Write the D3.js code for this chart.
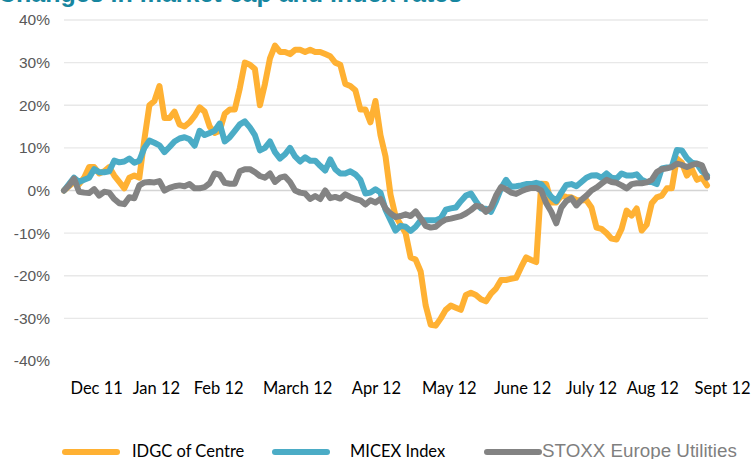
<!DOCTYPE html>
<html>
<head>
<meta charset="utf-8">
<script src="https://cdn.jsdelivr.net/npm/d3@7"></script>
<style>
  body { margin: 0; background: #fff; }
  svg { display: block; }
</style>
</head>
<body>
<svg id="chart" width="753" height="459"></svg>
<script>

// one value roughly every trading day and a half, Dec 2011 - Sept 2012 (% change)
var idgc = [0, 1, 2, 1.5, 3, 5.5, 5.5, 4, 4.5, 5.5, 3.5, 2, 0.5, 3, 3.5, 3,
  12, 20, 21, 24.5, 17, 17, 18.5, 15.5, 15, 16, 17.5, 19.5, 18.5, 15, 13.5, 14,
  18, 19, 19, 24, 30, 29.5, 28.5, 20, 25, 31, 34, 32.5, 32.5, 32, 33, 33,
  32.5, 33, 32.5, 32.5, 32, 31.5, 30, 29.5, 25, 24.5, 23.5, 19, 19, 16, 21, 13,
  8, -1, -6, -8, -10, -15.7, -16.2, -19, -27, -31.5, -31.7, -30, -28, -27, -27.5, -28,
  -24.5, -24, -24.5, -25.5, -26, -24.2, -23, -21, -21, -20.7, -20.5, -18, -15.7, -16.3, -16.8, 1.6,
  1.5, -2.8, -2.8, -1.2, -1.5, -1.6, -2.2, -2.3, -2.3, -4, -8.7, -9, -10, -11.3, -11.5, -9,
  -4.7, -5.9, -4.2, -9.4, -8, -3, -1.6, -1.2, 0.5, 0.5, 7.5, 6.5, 3.5, 5, 2.5, 3, 1.2];

var micex = [0, 1.5, 3, 2, 2.5, 3, 5, 4.3, 4.3, 4.5, 7, 6.6, 6.8, 7.5, 6.5, 7,
  10, 11.7, 11.2, 10.6, 9, 10.2, 11.5, 12.2, 12.5, 12, 10.5, 14, 13, 13.5, 14, 15.7,
  11.5, 12.5, 14, 15.5, 16.2, 14.8, 13, 9.4, 10, 11.5, 9, 7.5, 8.5, 10, 8, 6.8,
  7.8, 7, 7, 5.8, 4.7, 7.3, 5, 4, 4, 4.5, 3.8, 2.5, -0.7, -0.5, 0.3, -0.5,
  -4.5, -7, -9.4, -8.3, -8.5, -9.5, -8.5, -7, -7, -7, -7, -6.5, -4.5, -4.2, -4, -2.5,
  -1.2, -0.7, -2.5, -4.2, -4.3, -5, -2.5, 0.5, 2.5, 0.9, 1, 1.2, 1.5, 1.5, 1.8, 1.5,
  0, -1.5, -2.5, -0.5, 1.3, 1.5, 1, 2, 3, 3.5, 3.6, 3, 4, 3, 2.8, 4,
  3.5, 3.5, 3.8, 2.5, 2, 2, 1.5, 5.2, 5.4, 5.6, 9.5, 9.4, 7.6, 6.5, 6.3, 4.5, 3.5];

var stoxx = [0, 1.2, 2.8, -0.3, -0.5, -0.6, 0.3, -1.2, -0.3, -0.5, -2, -3, -3.2, -1.6, -1.8, 1.2,
  1.9, 2, 1.9, 2.2, 0, 0.6, 1, 1.2, 1, 1.5, 0.5, 0.5, 0.8, 1.7, 4, 3.7,
  1.8, 1.6, 1.6, 4.5, 5, 5, 4.3, 3.4, 3, 4, 2, 3, 3.3, 2, 0, -0.5,
  -0.7, -2, -1.3, -2, 0, -1.8, -1.5, -1.9, -0.9, -1.5, -2, -2.3, -3.3, -2.3, -2.8, -2,
  -4.2, -5.4, -6.2, -6, -5.6, -6, -4.9, -6.5, -8.3, -8.7, -8.5, -7.5, -6.8, -6.6, -6.3, -6,
  -5.4, -4.6, -3.6, -3.8, -5, -4, -1.2, 0.8, 0.3, -0.5, -0.8, -0.2, 0.3, 0.6, 0.6, 0,
  -3, -5, -7.7, -4, -2.5, -1.8, -3.5, -2.2, -1.2, 0, 0.7, 1.6, 2.5, 2, 1.8, 1.2,
  0.5, 1.5, 1.7, 1.7, 1.9, 2.5, 4.3, 5, 5.2, 5.5, 6.3, 6, 5.5, 6, 6.3, 5.9, 3];

var yTicks = [40, 30, 20, 10, 0, -10, -20, -30, -40];
var monthLabels = ["Dec 11", "Jan 12", "Feb 12", "March 12", "Apr 12", "May 12", "June 12", "July 12", "Aug 12", "Sept 12"];
var monthPos = [6.4, 18.3, 30.7, 46.4, 62.1, 76.6, 91.2, 104.9, 117.1, 131];
var seriesNames = ["IDGC of Centre", "MICEX Index", "STOXX Europe Utilities"];

var colors = ["#ffb133", "#4bacc6", "#838383"];

var svg = d3.select("#chart");

var x = d3.scaleLinear().domain([0, idgc.length - 1]).range([64, 707]);
var y = d3.scaleLinear().domain([-40, 40]).range([361, 20]);

// title, mostly cut off by the top edge
svg.append("text")
    .attr("x", -2)
    .attr("y", 2)
    .style("font-family", "Liberation Sans, Arial, sans-serif")
    .style("font-weight", "bold")
    .style("font-size", "25px")
    .style("fill", "#17869f")
    .text("Changes in market cap and index rates");

// gridlines
svg.selectAll(".grid")
    .data(yTicks.filter(function (d) { return d > -40; }))
    .enter().append("line")
    .attr("class", "grid")
    .attr("x1", 64)
    .attr("x2", 708)
    .attr("y1", function (d) { return y(d); })
    .attr("y2", function (d) { return y(d); })
    .style("stroke", function (d) { return d === 0 ? "#d4d4d4" : "#e8e8e8"; })
    .style("stroke-width", 1.3);

// y labels
svg.selectAll(".ylab")
    .data(yTicks)
    .enter().append("text")
    .attr("class", "ylab")
    .attr("x", 50)
    .attr("y", function (d) { return y(d); })
    .attr("dy", ".35em")
    .style("text-anchor", "end")
    .style("font-family", "Liberation Sans, Arial, sans-serif")
    .style("font-size", "15.5px")
    .style("fill", "#595959")
    .text(function (d) { return d + "%"; });

// month labels
var xAxis = d3.axisBottom(x)
    .tickValues(monthPos)
    .tickSize(0)
    .tickPadding(0)
    .tickFormat(function (d, i) { return monthLabels[i]; });

var gx = svg.append("g")
    .attr("transform", "translate(0,382)")
    .call(xAxis);
gx.select(".domain").remove();
gx.selectAll("text")
    .style("font-family", "Lato, sans-serif")
    .style("font-size", "16.5px")
    .style("fill", "#000");

// lines, first series at the bottom
var line = d3.line()
    .x(function (d, i) { return x(i); })
    .y(function (d) { return y(d); });

svg.selectAll(".series")
    .data([idgc, micex, stoxx])
    .enter().append("path")
    .attr("class", "series")
    .attr("d", line)
    .style("fill", "none")
    .style("stroke", function (d, i) { return colors[i]; })
    .style("stroke-width", 6)
    .style("stroke-linejoin", "round")
    .style("stroke-linecap", "round");

// legend
var legendX = [65, 275, 487];
var legendTextX = [132, 350, 542];

var legend = svg.selectAll(".legend")
    .data(seriesNames)
    .enter().append("g")
    .attr("class", "legend");

legend.append("line")
    .attr("x1", function (d, i) { return legendX[i]; })
    .attr("x2", function (d, i) { return legendX[i] + 52; })
    .attr("y1", 452)
    .attr("y2", 452)
    .style("stroke", function (d, i) { return colors[i]; })
    .style("stroke-width", 6)
    .style("stroke-linecap", "round");

legend.append("text")
    .attr("x", function (d, i) { return legendTextX[i]; })
    .attr("y", 457)
    .style("font-family", function (d, i) { return i === 2 ? "Liberation Sans, Arial, sans-serif" : "Lato, sans-serif"; })
    .style("font-size", function (d, i) { return i === 2 ? "18.8px" : "16.5px"; })
    .style("fill", function (d, i) { return i === 2 ? "#7f7f7f" : "#000"; })
    .text(function (d) { return d; });

</script>
</body>
</html>
